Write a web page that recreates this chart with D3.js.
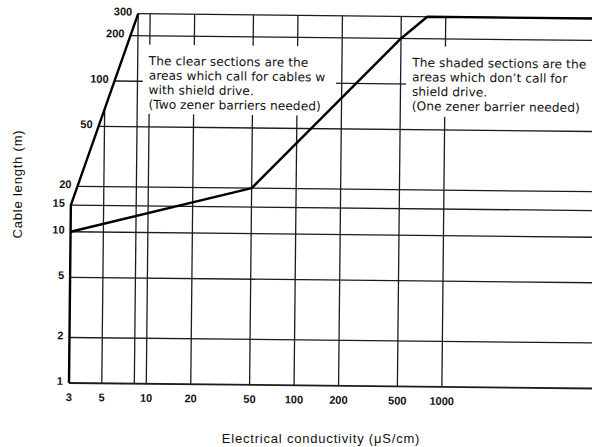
<!DOCTYPE html>
<html>
<head>
<meta charset="utf-8">
<script src="https://cdn.jsdelivr.net/npm/d3@7"></script>
<style>
body { margin: 0; background: #fff; }
#chart svg { display: block; }
</style>
</head>
<body>
<div id="chart"></div>
<script>
// axis values (conductivity in uS/cm, cable length in m)
var condTicks = [3, 5, 10, 20, 50, 100, 200, 500, 1000];
var condGrid = [5, 8.3, 10, 20, 50, 100, 200, 500, 1000];
var lengthTicks = [1, 2, 5, 10, 15, 20, 50, 100, 200, 300];

// boundary lines as [conductivity, length]
var leftEdge = [[3, 1], [3, 15], [8.3, 300]];
var limitLine = [[3, 10], [50, 20], [500, 200], [750, 300], [12000, 300]];

// notes
var noteClear = ["The clear sections are the", "areas which call for cables w", "with shield drive.", "(Two zener barriers needed)"];
var noteShaded = ["The shaded sections are the", "areas which don\u2019t call for", "shield drive.", "(One zener barrier needed)"];

var width = 592, height = 447;

var x = d3.scaleLog().domain([3, 12000]).range([69, 601.4]);
var y = d3.scaleLog().domain([1, 200, 300]).range([383, 35, 13]);

// left edge of the chart area at a given length (straight in pixels)
function edgeX(L) {
	if (L <= 15) return x(3);
	var t = (y(15) - y(L)) / (y(15) - y(300));
	return x(3) + t * (x(8.3) - x(3));
}
// top of a vertical grid line at a given conductivity
function edgeY(c) {
	if (c >= 8.3) return y(300);
	var t = (x(c) - x(3)) / (x(8.3) - x(3));
	return y(15) - t * (y(15) - y(300));
}

var svg = d3.select("#chart").append("svg")
	.attr("width", width)
	.attr("height", height);

// the scan is slightly tilted
var g = svg.append("g").attr("transform", "rotate(0.6, 69, 383)");

// horizontal grid
g.selectAll(".hgrid")
	.data(lengthTicks)
	.enter()
	.append("line")
	.attr("x1", function(d) { return edgeX(d); })
	.attr("x2", x(12000))
	.attr("y1", function(d) { return y(d); })
	.attr("y2", function(d) { return y(d); })
	.attr("stroke", "#1c1c1c")
	.attr("stroke-width", function(d) { return d === 1 ? 1.8 : 1.3; });

// vertical grid
g.selectAll(".vgrid")
	.data(condGrid)
	.enter()
	.append("line")
	.attr("x1", function(d) { return x(d); })
	.attr("x2", function(d) { return x(d); })
	.attr("y1", y(1))
	.attr("y2", function(d) { return edgeY(d); })
	.attr("stroke", "#1c1c1c")
	.attr("stroke-width", 1.3);

// note boxes mask the grid
var notes = [
	{lines: noteClear, c0: 9, c1: 183, l0: 61, l1: 175},
	{lines: noteShaded, c0: 545, c1: 12000, l0: 61, l1: 178}
];

g.selectAll(".mask")
	.data(notes)
	.enter()
	.append("rect")
	.attr("x", function(d) { return x(d.c0); })
	.attr("y", function(d) { return y(d.l1); })
	.attr("width", function(d) { return x(d.c1) - x(d.c0); })
	.attr("height", function(d) { return y(d.l0) - y(d.l1); })
	.attr("fill", "#fff");

var lineGen = d3.line()
	.x(function(d) { return x(d[0]); })
	.y(function(d) { return y(d[1]); });

g.selectAll(".bold")
	.data([leftEdge, limitLine])
	.enter()
	.append("path")
	.attr("d", lineGen)
	.attr("fill", "none")
	.attr("stroke", "#000")
	.attr("stroke-width", 2.4)
	.attr("stroke-linejoin", "round");

// note text, one text element per line
notes.forEach(function(n) {
	g.selectAll(null)
		.data(n.lines)
		.enter()
		.append("text")
		.attr("x", x(n.c0) + 6)
		.attr("y", function(d, i) { return y(n.l1) + 20.5 + i * 14.5; })
		.attr("font-family", "'DejaVu Sans', sans-serif")
		.attr("font-size", 12.2)
		.attr("letter-spacing", 0.05)
		.attr("fill", "#111")
		.text(function(d) { return d; });
});

// tick labels
g.selectAll(".ylab")
	.data(lengthTicks)
	.enter()
	.append("text")
	.attr("x", function(d) { return edgeX(d) - 6; })
	.attr("y", function(d) { return y(d) - 2; })
	.attr("dy", "0.35em")
	.attr("text-anchor", "end")
	.attr("font-family", "'Liberation Sans', Arial, sans-serif")
	.attr("font-weight", "bold")
	.attr("font-size", 11)
	.attr("fill", "#111")
	.text(function(d) { return d; });

g.selectAll(".xlab")
	.data(condTicks)
	.enter()
	.append("text")
	.attr("x", function(d) { return x(d); })
	.attr("y", y(1) + 18)
	.attr("text-anchor", "middle")
	.attr("font-family", "'Liberation Sans', Arial, sans-serif")
	.attr("font-weight", "bold")
	.attr("font-size", 11)
	.attr("fill", "#111")
	.text(function(d) { return d; });

// axis titles
svg.append("text")
	.attr("x", 321)
	.attr("y", 443)
	.attr("text-anchor", "middle")
	.attr("font-family", "'Liberation Sans', Arial, sans-serif")
	.attr("font-size", 13)
	.attr("letter-spacing", 0.8)
	.attr("fill", "#111")
	.text("Electrical conductivity (\u03bcS/cm)");

svg.append("text")
	.attr("transform", "translate(22,184) rotate(-90)")
	.attr("text-anchor", "middle")
	.attr("font-family", "'Liberation Sans', Arial, sans-serif")
	.attr("font-size", 13)
	.attr("letter-spacing", 0.8)
	.attr("fill", "#111")
	.text("Cable length (m)");
</script>
</body>
</html>
